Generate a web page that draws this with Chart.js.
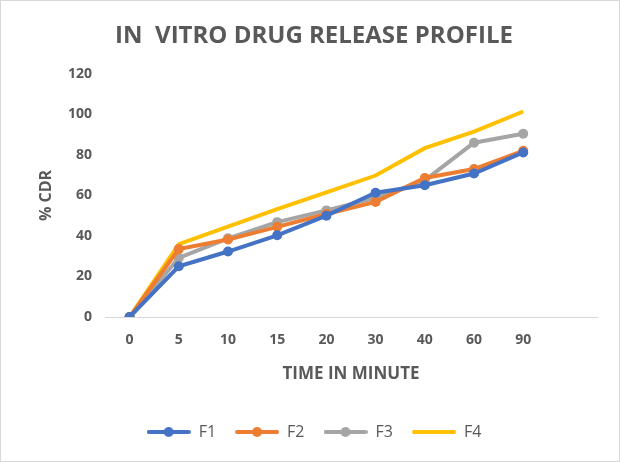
<!DOCTYPE html>
<html>
<head>
<meta charset="utf-8">
<script src="https://cdn.jsdelivr.net/npm/chart.js@4.4.0/dist/chart.umd.min.js"></script>
<style>
  html, body { margin: 0; padding: 0; background: #fff; }
  #wrap { width: 620px; height: 462px; box-sizing: border-box; border: 1px solid #d9d9d9; background: #fff; }
  canvas { display: block; }
</style>
</head>
<body>
<div id="wrap"><canvas id="c" width="618" height="460"></canvas></div>
<script>
const categories = ['0', '5', '10', '15', '20', '30', '40', '60', '90', ''];
const F1 = [0, 25, 32.3, 40.3, 50, 61.3, 65, 70.8, 81.2];
const F2 = [0, 33.5, 38.2, 44.5, 50.8, 56.8, 68.6, 73, 82];
const F3 = [0, 29.2, 38.8, 46.8, 52.6, 58.8, 67.4, 86, 90.4];
const F4 = [0, 36, 44.6, 53.2, 61.5, 69.8, 83.3, 91.5, 101.4];
const yTicks = [0, 20, 40, 60, 80, 100, 120];

const colors = { F1: '#4472c4', F2: '#ed7d31', F3: '#a5a5a5', F4: '#ffc000' };
const textColor = '#595959';
const FONT = "'Open Sans', 'Liberation Sans', sans-serif";

function legendIcon(color, withDot) {
  const c = document.createElement('canvas');
  c.width = 44; c.height = 12;
  const x = c.getContext('2d');
  x.strokeStyle = color; x.lineWidth = 4; x.lineCap = 'round';
  x.beginPath(); x.moveTo(2, 6); x.lineTo(42, 6); x.stroke();
  if (withDot) { x.fillStyle = color; x.beginPath(); x.arc(22, 6, 5, 0, Math.PI * 2); x.fill(); }
  return c;
}

function ds(label, data, color, marker) {
  return {
    label, data,
    borderColor: color, backgroundColor: color,
    borderWidth: 4,
    pointRadius: marker ? 5 : 0,
    pointHoverRadius: marker ? 5 : 0,
    pointBackgroundColor: color, pointBorderColor: color, pointBorderWidth: 0,
    tension: 0, fill: false,
    _icon: legendIcon(color, marker)
  };
}

const datasets = [
  ds('F1', F1, colors.F1, true),
  ds('F2', F2, colors.F2, true),
  ds('F3', F3, colors.F3, true),
  ds('F4', F4, colors.F4, false)
];

new Chart(document.getElementById('c'), {
  type: 'line',
  data: { labels: categories, datasets },
  options: {
    responsive: false,
    animation: false,
    devicePixelRatio: 1,
    layout: { padding: { left: 30, right: 22, top: 0, bottom: 11 } },
    plugins: {
      title: {
        display: true,
        text: 'IN  VITRO DRUG RELEASE PROFILE',
        color: textColor,
        font: { family: FONT, size: 24, weight: 'bold' },
        padding: { top: 21, bottom: 23 }
      },
      legend: {
        position: 'bottom',
        labels: {
          usePointStyle: true,
          pointStyleWidth: 44,
          color: textColor,
          font: { family: FONT, size: 16 },
          padding: 19,
          generateLabels(chart) {
            return chart.data.datasets.map((d, i) => ({
              text: d.label,
              pointStyle: d._icon,
              fillStyle: d.borderColor,
              strokeStyle: d.borderColor,
              lineWidth: 0,
              fontColor: textColor,
              hidden: false,
              datasetIndex: i
            }));
          }
        }
      },
      tooltip: { enabled: false }
    },
    scales: {
      x: {
        offset: true,
        grid: { display: false, drawTicks: false },
        border: { display: true, color: '#d9d9d9', width: 1 },
        ticks: { color: textColor, font: { family: FONT, size: 14, weight: 'bold' }, padding: 15, maxRotation: 0, autoSkip: false },
        title: { display: true, text: 'TIME IN MINUTE', color: textColor, font: { family: FONT, size: 17, weight: 'bold' }, padding: { top: 14, bottom: 21 } },
        afterFit(scale) { scale.height = 88; }
      },
      y: {
        min: 0, max: 120,
        afterBuildTicks(scale) { scale.ticks = yTicks.map(v => ({ value: v })); },
        grid: { display: false, drawTicks: false },
        border: { display: false },
        ticks: { color: textColor, font: { family: FONT, size: 14, weight: 'bold' }, padding: 13 },
        title: { display: true, text: '% CDR', color: textColor, font: { family: FONT, size: 16, weight: 'bold' }, padding: { top: 6, bottom: 0 } },
        afterFit(scale) { scale.width = 74; }
      }
    }
  }
});
</script>
</body>
</html>
